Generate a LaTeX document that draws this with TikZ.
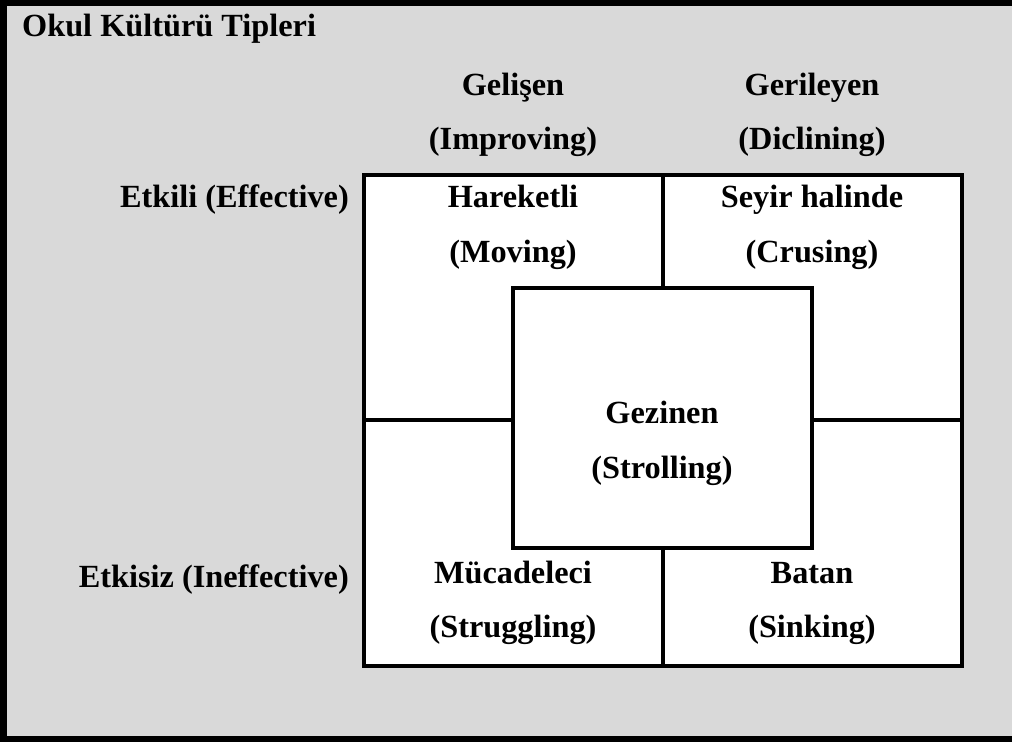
\documentclass[tikz,border=0pt]{standalone}
\usepackage{fontspec}
\setmainfont{Liberation Serif}
\begin{document}
\begin{tikzpicture}[x=1pt,y=-1pt,
  lbl/.style={font=\fontsize{32.3}{37}\selectfont\bfseries, inner sep=0pt, anchor=base},
  grid/.style={line width=4pt, line cap=rect},
  frame/.style={line width=6.5pt}]
\useasboundingbox (0,0) rectangle (1012,742);
\fill[fill={rgb,255:red,217;green,217;blue,217}] (0,0) rectangle (1012,742);
\draw[frame] (3.5,0) -- (3.5,742);
\draw[frame] (0,3) -- (1012,3);
\draw[frame] (0,739) -- (1012,739);
% grid
\fill[white] (364,175) rectangle (962,666);
\draw[grid] (364,175) rectangle (962,666);
\draw[grid] (663,175) -- (663,288);
\draw[grid] (663,548) -- (663,666);
\draw[grid] (364,420) -- (513,420);
\draw[grid] (812,420) -- (962,420);
\draw[grid] (513,288) rectangle (812,548);
% texts
\node[lbl, anchor=base west] (title) at (22,36) {Okul Kültürü Tipleri};
\node[lbl] (g1) at (513,95) {Gelişen};
\node[lbl] (g2) at (513,149) {(Improving)};
\node[lbl] (r1) at (812,95) {Gerileyen};
\node[lbl] (r2) at (812,149) {(Diclining)};
\node[lbl, anchor=base east] (eff) at (349,207) {Etkili (Effective)};
\node[lbl, anchor=base east] (ineff) at (349,587) {Etkisiz (Ineffective)};
\node[lbl] (h1) at (513,207) {Hareketli};
\node[lbl] (h2) at (513,262) {(Moving)};
\node[lbl] (s1) at (812,207) {Seyir halinde};
\node[lbl] (s2) at (812,262) {(Crusing)};
\node[lbl] (z1) at (662,423) {Gezinen};
\node[lbl] (z2) at (662,478) {(Strolling)};
\node[lbl] (m1) at (513,583) {Mücadeleci};
\node[lbl] (m2) at (513,637) {(Struggling)};
\node[lbl] (b1) at (812,583) {Batan};
\node[lbl] (b2) at (812,637) {(Sinking)};
\end{tikzpicture}
\end{document}
